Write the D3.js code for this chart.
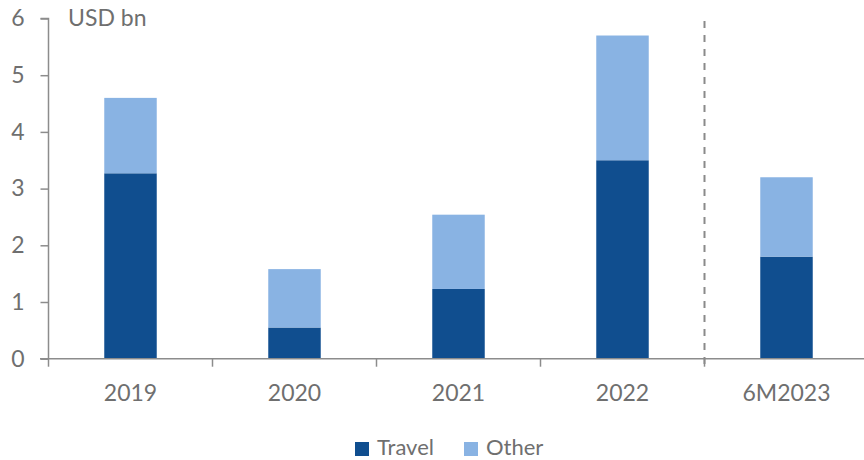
<!DOCTYPE html>
<html>
<head>
<meta charset="utf-8">
<script src="https://cdn.jsdelivr.net/npm/d3@7"></script>
<style>
  html, body { margin: 0; padding: 0; background: #fff; }
  svg { display: block; font-family: Lato, "Open Sans", sans-serif; }
</style>
</head>
<body>
<svg id="chart" width="864" height="460"></svg>
<script>
// Revenue split by segment, USD bn
const categories = ["2019", "2020", "2021", "2022", "6M2023"];
const travel = [3.27, 0.55, 1.23, 3.5, 1.8];
const other = [1.33, 1.03, 1.31, 2.2, 1.4];
const yTicks = [0, 1, 2, 3, 4, 5, 6];
const seriesNames = ["Travel", "Other"];
const colors = ["#104E8F", "#89B3E3"];

const svg = d3.select("#chart");
const textColor = "#6f6f6f";
const axisColor = "#8c8c8c";
const fontSize = 23;

const x = d3.scaleBand().domain(categories).range([48.5, 868.5]).paddingInner(0.68).paddingOuter(0.34);
const y = d3.scaleLinear().domain([0, 6]).range([358.7, 18.5]);

const rows = categories.map((c, i) => ({ cat: c, Travel: travel[i], Other: other[i] }));
const stacked = d3.stack().keys(seriesNames)(rows);

// bars
svg.append("g").selectAll("g")
  .data(stacked)
  .join("g")
  .attr("fill", (d, i) => colors[i])
  .selectAll("rect")
  .data(d => d)
  .join("rect")
  .attr("x", d => x(d.data.cat))
  .attr("width", x.bandwidth())
  .attr("y", d => y(d[1]))
  .attr("height", d => y(d[0]) - y(d[1]));

// y axis
const yAxis = svg.append("g")
  .attr("transform", "translate(48.5,0)")
  .call(d3.axisLeft(y).tickValues(yTicks).tickSize(8).tickPadding(16).tickFormat(d3.format("d")));
yAxis.select(".domain").attr("stroke", axisColor).attr("stroke-width", 1.5).attr("d", `M-8,${y(6)}H0V${y(0)}`);
yAxis.selectAll(".tick line").attr("stroke", axisColor).attr("stroke-width", 1.5);
yAxis.selectAll(".tick text").attr("fill", textColor).attr("font-size", fontSize).attr("font-family", "Lato, 'Open Sans', sans-serif");

// x axis baseline with category separators
const bandStep = x.step();
const sepPositions = d3.range(categories.length + 1).map(i => 48 + i * bandStep);
const xg = svg.append("g");
xg.append("line")
  .attr("x1", 40).attr("x2", 864)
  .attr("y1", y(0)).attr("y2", y(0))
  .attr("stroke", axisColor).attr("stroke-width", 1.5);
xg.selectAll("line.sep")
  .data(sepPositions.slice(0, categories.length))
  .join("line")
  .attr("class", "sep")
  .attr("x1", d => d + 0.5).attr("x2", d => d + 0.5)
  .attr("y1", y(0)).attr("y2", y(0) + 8)
  .attr("stroke", axisColor).attr("stroke-width", 1.5);
xg.selectAll("text")
  .data(categories)
  .join("text")
  .attr("x", d => x(d) + x.bandwidth() / 2)
  .attr("y", 401)
  .attr("text-anchor", "middle")
  .attr("fill", textColor)
  .attr("font-size", fontSize)
  .text(d => d);

// dashed divider before the half-year period
const divX = sepPositions[4] + 0.5;
svg.append("line")
  .attr("x1", divX).attr("x2", divX)
  .attr("y1", 21).attr("y2", y(0) + 8)
  .attr("stroke", "#8a8a8a").attr("stroke-width", 2)
  .attr("stroke-dasharray", "7,7");

// unit label
svg.append("text")
  .attr("x", 68).attr("y", 26)
  .attr("fill", textColor).attr("font-size", fontSize)
  .text("USD bn");

// legend
const legend = svg.append("g");
const legendItems = [{ name: "Travel", x: 355 }, { name: "Other", x: 464 }];
legendItems.forEach((item, i) => {
  legend.append("rect").attr("x", item.x).attr("y", 442).attr("width", 14).attr("height", 14).attr("fill", colors[i]);
  legend.append("text").attr("x", item.x + 22).attr("y", 455)
    .attr("fill", textColor).attr("font-size", 22).text(item.name);
});
</script>
</body>
</html>
